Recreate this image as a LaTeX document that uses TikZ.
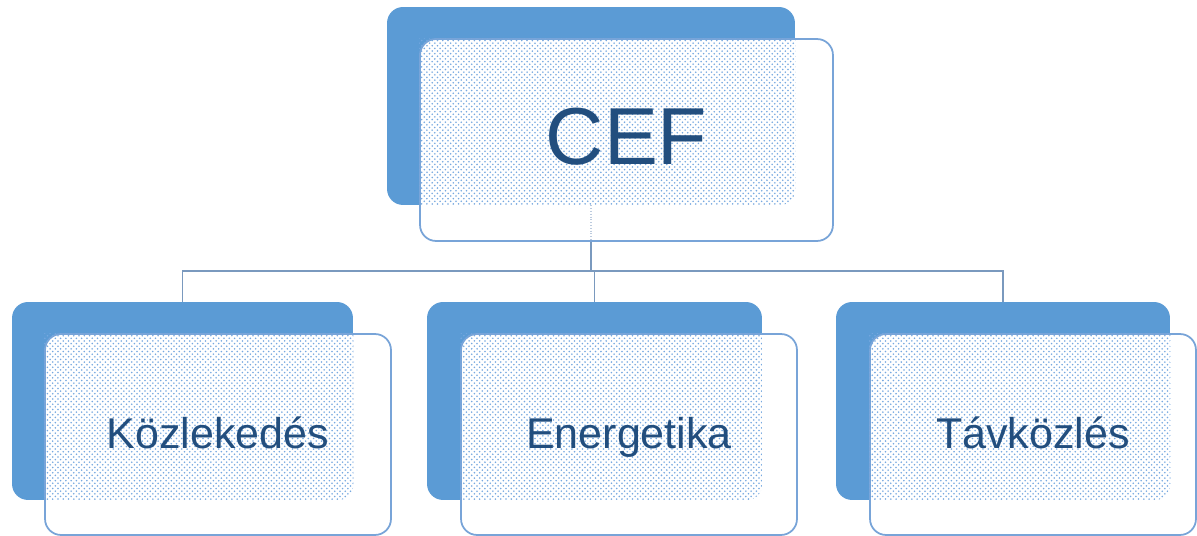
\documentclass[tikz,border=0pt]{standalone}
\usepackage{fontspec}
\setmainfont{Liberation Sans}
\usetikzlibrary{patterns}

\definecolor{backblue}{RGB}{91,155,213}
\definecolor{edgeblue}{RGB}{120,164,216}
\definecolor{dotblue}{RGB}{118,168,224}
\definecolor{linkgray}{RGB}{122,153,190}
\definecolor{textblue}{RGB}{34,78,126}

\tikzset{
    backbox/.style={fill=backblue, draw=none, rounded corners=0.32cm, inner sep=0pt},
    frontbox/.style={fill=white, draw=edgeblue, line width=1pt, rounded corners=0.32cm, inner sep=0pt, text=textblue},
    link/.style={draw=linkgray, line width=1.1pt},
    biglabel/.style={text=textblue, anchor=base, inner sep=0pt, font=\fontsize{46}{50}\selectfont},
    smalllabel/.style={text=textblue, anchor=base, inner sep=0pt, font=\fontsize{24.5}{28}\selectfont}
}

\begin{document}
\begin{tikzpicture}[x=0.02cm, y=-0.02cm]
            \useasboundingbox[fill=white] (0, 0) rectangle (1197, 536);

            %%back boxes
            \node[backbox, minimum width=8.16cm, minimum height=3.96cm] (cefback) at (591, 106){};
            \node[backbox, minimum width=6.82cm, minimum height=3.96cm] (kozback) at (182.5, 401){};
            \node[backbox, minimum width=6.7cm, minimum height=3.96cm] (eneback) at (594.5, 401){};
            \node[backbox, minimum width=6.68cm, minimum height=3.96cm] (tavback) at (1003, 401){};

            %%connectors
            \coordinate (hub) at (591, 271);
            \draw[link] (cefback.south) -- (hub);
            \draw[link] (hub) -| (kozback.north);
            \draw[link] (hub) -| (tavback.north);
            \draw[link] (hub) -| (eneback.north);

            %%front boxes
            \node[frontbox, minimum width=8.26cm, minimum height=4.04cm] (ceffront) at (626.5, 140){};
            \node[frontbox, minimum width=6.92cm, minimum height=4.02cm] (kozfront) at (218, 434.5){};
            \node[frontbox, minimum width=6.72cm, minimum height=4.02cm] (enefront) at (629, 434.5){};
            \node[frontbox, minimum width=6.52cm, minimum height=4.02cm] (tavfront) at (1033, 434.5){};

            %%dotted overlap
            \foreach \b/\f in {cefback/ceffront, kozback/kozfront, eneback/enefront, tavback/tavfront}{
                \begin{scope}
                    \clip[rounded corners=0.32cm] (\b.north west) rectangle (\b.south east);
                    \fill[pattern=crosshatch dots, pattern color=dotblue] (\f.north west) rectangle (\f.south east);
                \end{scope}
            }
            \draw[link, line width=0.6pt, densely dotted, opacity=0.5] (cefback.south) -- (cefback.south |- ceffront.south);

            %%labels
            \node[biglabel] (ceftext) at ([yshift=-0.5cm]ceffront.center){CEF};
            \node[smalllabel] (koztext) at ([yshift=-0.29cm]kozfront.center){Közlekedés};
            \node[smalllabel] (enetext) at ([yshift=-0.29cm]enefront.center){Energetika};
            \node[smalllabel] (tavtext) at ([yshift=-0.29cm]tavfront.center){Távközlés};

        \end{tikzpicture}
\end{document}
